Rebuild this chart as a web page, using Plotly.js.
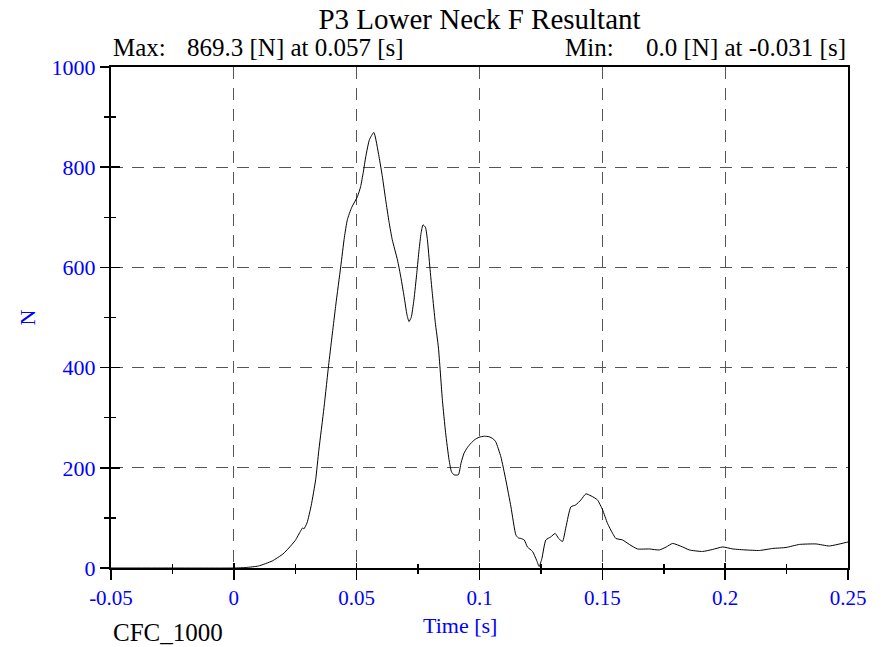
<!DOCTYPE html>
<html>
<head>
<meta charset="utf-8">
<script src="https://cdn.plot.ly/plotly-3.0.1.min.js"></script>
<style>html,body{margin:0;padding:0;background:#fff;}#chart{width:888px;height:647px;}</style>
</head>
<body>
<div id="chart"></div>
<script>
const timeS = [-0.05,-0.031,0,0.005,0.01,0.0156,0.02,0.0224,0.025,0.0272,0.028,0.0285,0.0298,0.0315,0.0333,0.0346,0.0367,0.0387,0.0394,0.0415,0.0435,0.045,0.0462,0.048,0.0503,0.0516,0.0527,0.0537,0.0552,0.057,0.0591,0.0605,0.0618,0.0632,0.0645,0.0666,0.068,0.0693,0.0705,0.0713,0.0722,0.0733,0.0745,0.0754,0.0762,0.077,0.078,0.0788,0.0798,0.0808,0.082,0.0833,0.0849,0.0862,0.0876,0.0886,0.0896,0.0914,0.0925,0.0937,0.095,0.0965,0.098,0.0998,0.102,0.1039,0.1055,0.1066,0.1087,0.1107,0.1128,0.1148,0.1158,0.1168,0.1182,0.1195,0.1216,0.1232,0.1243,0.1254,0.127,0.129,0.1308,0.1322,0.1338,0.1352,0.1372,0.1392,0.1413,0.1433,0.1454,0.148,0.1501,0.1521,0.1542,0.1555,0.1582,0.161,0.1643,0.1691,0.1732,0.176,0.1786,0.1827,0.1854,0.1908,0.1949,0.199,0.2031,0.2085,0.2139,0.2194,0.2248,0.2302,0.237,0.2424,0.2492,0.25];
const forceN = [0,0,0,1,4,14,28,40,55,74,80,78,90,125,176,235,320,410,439,525,601,660,695,720,741,761,790,821,855,869.3,821,780,735,690,655,615,580,542,505,492,500,535,590,635,668,685,680,655,600,548,490,439,335,270,216,192,186,186,210,229,240,249,256,261,263,262,258,252,222,176,122,66,60,59,56,42,33,16,3,19,56,62,69,59,53,82,122,126,136,148,144,136,116,89,69,59,56,47,38,38,36,42,49,42,36,33,37,42,38,36,35,39,41,47,48,44,51,52];

const xTickVals = [-0.05,0,0.05,0.1,0.15,0.2,0.25];
const xTickText = ['-0.05','0','0.05','0.1','0.15','0.2','0.25'];
const yTickVals = [0,200,400,600,800,1000];
const yTickText = ['0','200','400','600','800','1000'];

const chartTitle = 'P3 Lower Neck F Resultant';
const maxLabel = '869.3 [N] at 0.057 [s]';
const minLabel = '0.0 [N] at -0.031 [s]';
const filterLabel = 'CFC_1000';
const xLabel = 'Time [s]';
const yLabel = 'N';

const serif = 'Liberation Serif, Times New Roman, serif';
const blue = '#0000ff';

const traces = [
  {x: timeS, y: forceN, type: 'scatter', mode: 'lines', line: {color: '#000', width: 1, shape: 'spline', smoothing: 0.5}, hoverinfo: 'x+y', showlegend: false},
  {x: timeS, y: forceN, type: 'scatter', mode: 'lines', xaxis: 'x2', yaxis: 'y2', line: {color: 'rgba(0,0,0,0)', width: 0}, hoverinfo: 'skip', showlegend: false}
];

const layout = {
  width: 888, height: 647,
  margin: {l: 111, r: 40, t: 67, b: 79},
  paper_bgcolor: '#fff', plot_bgcolor: '#fff',
  font: {family: serif, color: '#000'},
  title: {text: chartTitle, font: {family: serif, size: 29, color: '#000'}, x: 0.5, xref: 'paper', xanchor: 'center', y: 1 - 19/647, yref: 'container', yanchor: 'middle'},
  xaxis: {
    range: [-0.05, 0.25], tickvals: xTickVals, ticktext: xTickText,
    ticks: 'outside', ticklen: 10, tickwidth: 1.5, tickcolor: '#000',
    minor: {dtick: 0.025, tick0: -0.05, ticks: 'outside', ticklen: 4, tickwidth: 1.5, tickcolor: '#000', showgrid: false},
    showgrid: true, gridcolor: '#555', gridwidth: 1, griddash: '12px,9px',
    zeroline: false, showline: true, linecolor: '#000', linewidth: 2, mirror: true,
    tickfont: {family: serif, size: 21, color: blue}
  },
  yaxis: {
    range: [0, 1000], tickvals: yTickVals, ticktext: yTickText,
    ticks: 'outside', ticklen: 9, tickwidth: 1.5, tickcolor: '#000',
    minor: {dtick: 100, tick0: 0, ticks: 'outside', ticklen: 5, tickwidth: 1.5, tickcolor: '#000', showgrid: false},
    showgrid: true, gridcolor: '#555', gridwidth: 1, griddash: '12px,9px',
    zeroline: false, showline: true, linecolor: '#000', linewidth: 2, mirror: true,
    tickfont: {family: serif, size: 22, color: blue},
    title: {text: yLabel, font: {family: serif, size: 22, color: blue}, standoff: 10}
  },
  xaxis2: {
    overlaying: 'x', matches: 'x', anchor: 'y2', side: 'bottom',
    range: [-0.05, 0.25], tickvals: xTickVals, showticklabels: false,
    ticks: 'inside', ticklen: 5, tickwidth: 1.5, tickcolor: '#000',
    minor: {dtick: 0.025, tick0: -0.05, ticks: 'inside', ticklen: 4, tickwidth: 1.5, tickcolor: '#000', showgrid: false},
    showgrid: false, zeroline: false, showline: false
  },
  yaxis2: {
    overlaying: 'y', matches: 'y', anchor: 'x2', side: 'left',
    range: [0, 1000], tickvals: yTickVals, showticklabels: false,
    ticks: 'inside', ticklen: 9, tickwidth: 1.5, tickcolor: '#000',
    minor: {dtick: 100, tick0: 0, ticks: 'inside', ticklen: 5, tickwidth: 1.5, tickcolor: '#000', showgrid: false},
    showgrid: false, zeroline: false, showline: false
  },
  annotations: [
    {text: 'Max:', xref: 'paper', yref: 'paper', x: 0, y: 1 + 20/501, xanchor: 'left', yanchor: 'middle', showarrow: false, font: {family: serif, size: 25, color: '#000'}},
    {text: maxLabel, xref: 'paper', yref: 'paper', x: (185-111)/737, y: 1 + 20/501, xanchor: 'left', yanchor: 'middle', showarrow: false, font: {family: serif, size: 25, color: '#000'}},
    {text: 'Min:', xref: 'paper', yref: 'paper', x: (563-111)/737, y: 1 + 20/501, xanchor: 'left', yanchor: 'middle', showarrow: false, font: {family: serif, size: 25, color: '#000'}},
    {text: minLabel, xref: 'paper', yref: 'paper', x: 1, y: 1 + 20/501, xanchor: 'right', yanchor: 'middle', showarrow: false, font: {family: serif, size: 25, color: '#000'}},
    {text: xLabel, xref: 'paper', yref: 'paper', x: (460-111)/737, y: -(625-568)/501, xanchor: 'center', yanchor: 'middle', showarrow: false, font: {family: serif, size: 22, color: blue}},
    {text: filterLabel, xref: 'paper', yref: 'paper', x: 0, y: -(632-568)/501, xanchor: 'left', yanchor: 'middle', showarrow: false, font: {family: serif, size: 25, color: '#000'}}
  ]
};

Plotly.newPlot('chart', traces, layout, {displayModeBar: false, staticPlot: true});
</script>
</body>
</html>
